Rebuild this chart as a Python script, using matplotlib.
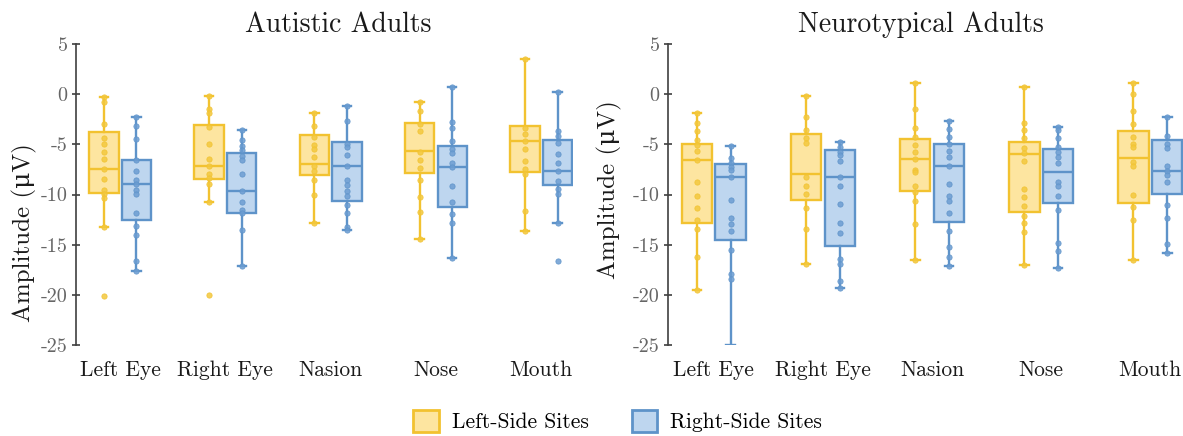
import matplotlib
matplotlib.use('Agg')
import matplotlib.pyplot as plt
from matplotlib.patches import Patch

# data (amplitude in microvolts)
sites = ['Left Eye', 'Right Eye', 'Nasion', 'Nose', 'Mouth']

# box stats per site: [whisker low, q1, median, q3, whisker high]
aut_left_stats = [[-13.2, -9.8, -7.5, -3.75, -0.3],
                  [-10.7, -8.5, -7.2, -3.1, -0.2],
                  [-12.8, -8.1, -7.0, -4.1, -1.9],
                  [-14.4, -7.9, -5.65, -2.9, -0.8],
                  [-13.6, -7.8, -4.7, -3.15, 3.5]]
aut_right_stats = [[-17.6, -12.5, -9.0, -6.6, -2.3],
                   [-17.1, -11.8, -9.6, -5.9, -3.6],
                   [-13.5, -10.6, -7.2, -4.8, -1.2],
                   [-16.3, -11.2, -7.3, -5.15, 0.7],
                   [-12.8, -9.1, -7.7, -4.6, 0.2]]
nt_left_stats = [[-19.5, -12.8, -6.6, -5.0, -1.9],
                 [-16.9, -10.5, -8.0, -4.0, -0.2],
                 [-16.5, -9.6, -6.5, -4.5, 1.1],
                 [-17.0, -11.7, -6.0, -4.8, 0.7],
                 [-16.5, -10.8, -6.4, -3.7, 1.1]]
nt_right_stats = [[-25.0, -14.5, -8.3, -7.0, -5.15],
                  [-19.3, -15.1, -8.3, -5.6, -4.75],
                  [-17.1, -12.7, -7.2, -5.0, -2.7],
                  [-17.3, -10.8, -7.75, -5.5, -3.3],
                  [-15.8, -9.9, -7.7, -4.6, -2.3]]

# individual participants
aut_left_pts = [[-0.3, -0.8, -3.0, -4.4, -5.0, -5.8, -6.5, -7.5, -8.5, -9.5, -9.9, -10.3, -13.2, -20.1],
                [-0.2, -1.5, -1.9, -3.3, -5.0, -6.5, -7.2, -8.0, -8.4, -9.0, -10.7, -20.0],
                [-1.9, -3.2, -4.3, -5.1, -5.5, -6.3, -7.2, -7.7, -8.6, -10.0, -12.8],
                [-0.8, -1.7, -3.0, -3.7, -5.75, -6.6, -7.4, -8.6, -10.2, -11.7, -14.4],
                [3.5, -3.4, -4.0, -4.7, -5.5, -6.7, -7.5, -8.0, -11.6, -13.6]]
aut_right_pts = [[-2.3, -3.2, -4.5, -6.6, -7.7, -8.6, -9.0, -9.5, -9.9, -11.8, -13.1, -14.0, -16.6, -17.6],
                 [-3.6, -4.6, -5.2, -5.6, -6.2, -6.6, -8.0, -9.6, -10.7, -11.5, -11.8, -13.5, -17.1],
                 [-1.2, -2.7, -5.0, -5.25, -6.1, -7.2, -8.6, -9.1, -9.6, -10.1, -11.0, -11.8, -13.2, -13.5],
                 [0.7, -2.8, -3.4, -4.7, -5.5, -5.85, -6.85, -7.3, -9.2, -10.7, -11.9, -12.8, -16.3],
                 [0.2, -3.7, -4.2, -4.9, -6.0, -6.9, -7.7, -8.7, -9.4, -9.9, -12.8, -16.6]]
nt_left_pts = [[-1.9, -2.9, -3.7, -4.6, -5.1, -5.65, -6.6, -8.8, -10.1, -11.3, -12.5, -13.4, -16.2, -19.5],
               [-0.2, -2.3, -3.6, -4.4, -4.9, -8.25, -9.2, -9.9, -11.3, -13.4, -16.9],
               [1.1, -1.5, -3.4, -4.3, -5.1, -5.75, -6.5, -7.6, -7.8, -9.2, -9.7, -10.6, -12.9, -16.5],
               [0.7, -2.9, -3.6, -4.4, -5.4, -5.85, -6.7, -9.4, -10.2, -11.1, -12.1, -12.8, -13.7, -17.0],
               [1.1, 0.0, -1.7, -3.0, -4.3, -5.0, -5.3, -6.75, -7.2, -10.0, -11.2, -12.5, -16.5]]
nt_right_pts = [[-5.15, -6.35, -6.85, -7.25, -7.6, -8.3, -10.5, -12.3, -12.9, -13.6, -15.5, -17.9, -18.4],
                [-4.75, -5.25, -5.75, -6.1, -6.7, -8.3, -9.2, -10.9, -12.8, -13.8, -16.4, -16.9, -18.6, -19.3],
                [-2.7, -3.5, -4.3, -5.0, -5.7, -6.25, -7.2, -9.0, -10.1, -10.6, -11.8, -13.6, -15.2, -16.2, -17.1],
                [-3.3, -3.6, -4.4, -5.25, -5.75, -6.25, -6.9, -8.8, -9.2, -10.1, -11.5, -14.8, -15.6, -17.3],
                [-2.3, -4.2, -5.0, -5.4, -7.2, -7.7, -8.1, -8.8, -11.0, -12.3, -14.9, -15.8]]

y_ticks = [5, 0, -5, -10, -15, -20, -25]

yellow = '#F2C230'
yellow_fill = '#FDE5A0'
yellow_dot = '#F3C83E'
blue = '#5E93C9'
blue_fill = '#BED6EF'
blue_dot = '#6C9DD2'

# cmr10 has no micro sign, so it falls back to DejaVu Serif (upright mu)
plt.rcParams['font.family'] = ['cmr10', 'DejaVu Serif']
plt.rcParams['axes.unicode_minus'] = False

fig = plt.figure(figsize=(11.83, 4.36), dpi=100)
ax1 = fig.add_axes([0.0642, 0.2087, 0.420, 0.6903])
ax2 = fig.add_axes([0.5647, 0.2087, 0.4353, 0.6903])


def draw_side(ax, stats, pts, offset, color, fill, dot):
    boxes = []
    for s in stats:
        boxes.append({'whislo': s[0], 'q1': s[1], 'med': s[2], 'q3': s[3], 'whishi': s[4]})
    pos = [i + offset for i in range(len(stats))]
    ax.bxp(boxes, positions=pos, widths=0.28, capwidths=0.08, showfliers=False,
           patch_artist=True,
           boxprops=dict(facecolor=fill, edgecolor=color, linewidth=1.7),
           medianprops=dict(color=color, linewidth=1.7),
           whiskerprops=dict(color=color, linewidth=1.7),
           capprops=dict(color=color, linewidth=1.7))
    for p, vals in zip(pos, pts):
        ax.plot([p] * len(vals), vals, 'o', ms=3.8, mfc=dot, mec=color, mew=0.6,
                alpha=0.85, zorder=3)


def style_axes(ax, title, title_x, label_xy):
    ax.set_xlim(-0.42, 4.3)
    ax.set_ylim(-25, 5)
    ax.set_yticks(y_ticks)
    ax.set_yticklabels([str(t) for t in y_ticks])
    ax.set_xticks(range(len(sites)))
    ax.set_xticklabels(sites, fontsize=15.5, color='#1a1a1a')
    ax.tick_params(axis='x', length=0, pad=11)
    ax.tick_params(axis='y', direction='inout', length=6, width=1.2, colors='#404040',
                   labelsize=14.5, labelcolor='#666666', pad=3)
    for side in ['top', 'right', 'bottom']:
        ax.spines[side].set_visible(False)
    ax.spines['left'].set_color('#404040')
    ax.spines['left'].set_linewidth(1.2)
    ax.spines['left'].set_bounds(-25, 5)
    ax.set_ylabel('Amplitude (μV)', fontsize=18, color='#1a1a1a')
    ax.yaxis.set_label_coords(label_xy[0], label_xy[1])
    ax.set_title(title, fontsize=20, color='#1a1a1a', pad=9, x=title_x)


draw_side(ax1, aut_left_stats, aut_left_pts, -0.155, yellow, yellow_fill, yellow_dot)
draw_side(ax1, aut_right_stats, aut_right_pts, 0.155, blue, blue_fill, blue_dot)
draw_side(ax2, nt_left_stats, nt_left_pts, -0.155, yellow, yellow_fill, yellow_dot)
draw_side(ax2, nt_right_stats, nt_right_pts, 0.155, blue, blue_fill, blue_dot)

style_axes(ax1, 'Autistic Adults', 0.527, (-0.078, 0.372))
style_axes(ax2, 'Neurotypical Adults', 0.491, (-0.09, 0.515))

handles = [Patch(facecolor=yellow_fill, edgecolor=yellow, linewidth=2.0, label='Left-Side Sites'),
           Patch(facecolor=blue_fill, edgecolor=blue, linewidth=2.0, label='Right-Side Sites')]
fig.legend(handles=handles, loc='center', bbox_to_anchor=(0.522, 0.034), ncol=2,
           frameon=False, fontsize=15.5, handlelength=1.2, handleheight=1.2,
           columnspacing=2.0, handletextpad=0.6)

fig.savefig('out.png', dpi=100)
